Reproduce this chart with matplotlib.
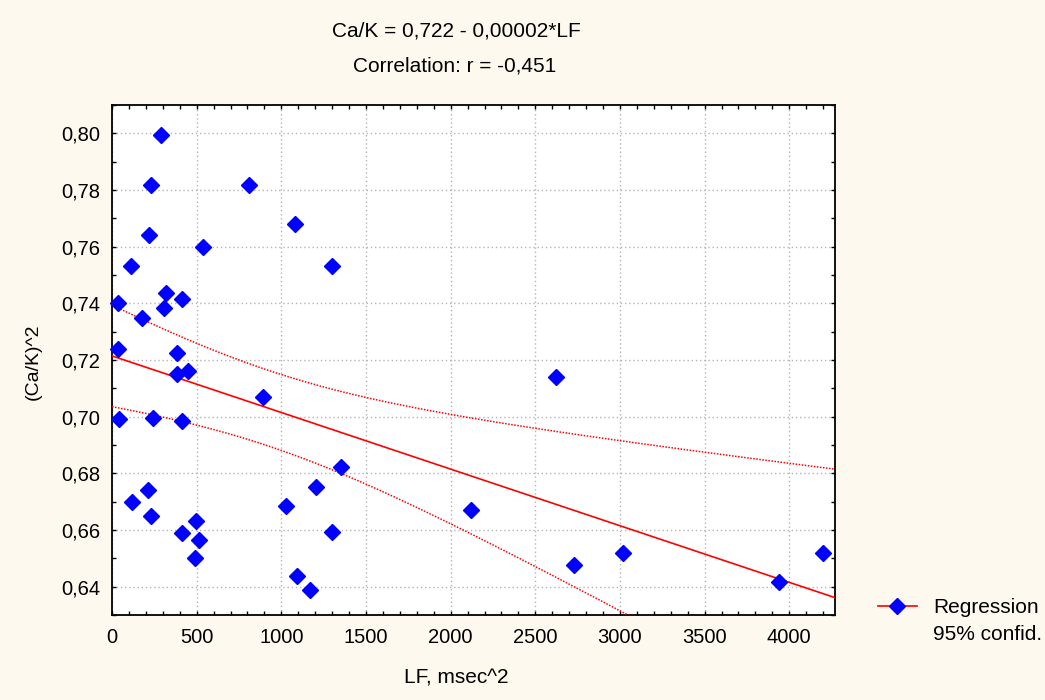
import numpy as np
import matplotlib
matplotlib.use("Agg")
import matplotlib.pyplot as plt
from matplotlib.ticker import MultipleLocator, FuncFormatter
from matplotlib.lines import Line2D

# Data
lf = [287, 232, 809, 1082, 216, 535, 110, 1301, 37, 319, 411, 309, 175, 37, 384,
      382, 451, 893, 43, 242, 411, 1350, 1204, 215, 118, 1025, 230, 496, 411, 1301,
      513, 490, 1092, 1169, 2623, 2119, 2727, 3020, 3941, 4199]
cak = [0.7993, 0.7816, 0.7816, 0.7680, 0.7640, 0.7600, 0.7532, 0.7532, 0.7401, 0.7438,
       0.7417, 0.7383, 0.7349, 0.7238, 0.7226, 0.7149, 0.7162, 0.7070, 0.6991, 0.6997,
       0.6984, 0.6821, 0.6751, 0.6742, 0.6700, 0.6685, 0.6649, 0.6633, 0.6588, 0.6594,
       0.6564, 0.6502, 0.6439, 0.6387, 0.7139, 0.6669, 0.6478, 0.6518, 0.6415, 0.6518]
x_ticks = [0, 500, 1000, 1500, 2000, 2500, 3000, 3500, 4000]
y_ticks = [0.64, 0.66, 0.68, 0.70, 0.72, 0.74, 0.76, 0.78, 0.80]
title1 = "Ca/K = 0,722 - 0,00002*LF"
title2 = "Correlation: r = -0,451"
xlabel = "LF, msec^2"
ylabel = "(Ca/K)^2"
legend_labels = ["Regression", "95% confid."]
t_crit = 2.024  # t(0.975, df=38)

x = np.array(lf, float)
y = np.array(cak, float)
n = len(x)
b, a = np.polyfit(x, y, 1)
resid = y - (a + b * x)
s = np.sqrt(np.sum(resid ** 2) / (n - 2))
xbar = x.mean()
sxx = np.sum((x - xbar) ** 2)

xmin, xmax = 0, 4270
xx = np.linspace(xmin, xmax, 300)
yy = a + b * xx
half = t_crit * s * np.sqrt(1.0 / n + (xx - xbar) ** 2 / sxx)

plt.rcParams['font.family'] = ['Liberation Sans', 'DejaVu Sans']
bg = '#FEF9EE'
fig = plt.figure(figsize=(10.45, 7.0), dpi=100, facecolor=bg)
ax = fig.add_axes([112 / 1045, 1 - 615 / 700, (835 - 112) / 1045, (615 - 105) / 700])
ax.set_facecolor('white')

ax.plot(xx, yy, color='#FF0000', lw=1.2, zorder=3)
ax.plot(xx, yy + half, color='#FF0000', lw=1.1, ls=(0, (1, 1)), zorder=3)
ax.plot(xx, yy - half, color='#FF0000', lw=1.1, ls=(0, (1, 1)), zorder=3)
ax.plot(x, y, ls='none', marker='D', ms=8, color='#0000FF', mec='#0000FF', zorder=4,
        clip_on=False)

ax.set_xlim(xmin, xmax)
ax.set_ylim(0.63, 0.81)
ax.set_xticks(x_ticks)
ax.set_yticks(y_ticks)
ax.xaxis.set_minor_locator(MultipleLocator(100))
ax.yaxis.set_minor_locator(MultipleLocator(0.01))
ax.xaxis.set_major_formatter(FuncFormatter(lambda v, p: f"{v:.0f}"))
ax.yaxis.set_major_formatter(FuncFormatter(lambda v, p: f"{v:.2f}".replace('.', ',')))
ax.tick_params(which='both', direction='in', top=True, right=True, length=3,
               width=1, color='black', labelsize=14.5)
ax.tick_params(axis='x', which='major', pad=9.5)
ax.tick_params(axis='y', which='major', pad=8.6)
ax.grid(True, which='major', color='#B4B4B4', ls=(0, (1, 2)), lw=1.0)
for sp in ax.spines.values():
    sp.set_linewidth(1.3)
    sp.set_color('black')

fig.text(456 / 1045, 1 - 31 / 700, title1, ha='center', va='center', fontsize=15)
fig.text(455 / 1045, 1 - 66 / 700, title2, ha='center', va='center', fontsize=15)
fig.text(456 / 1045, 1 - 678 / 700, xlabel, ha='center', va='center', fontsize=15)
fig.text(33 / 1045, 1 - 362 / 700, ylabel, ha='center', va='center', fontsize=14,
         rotation=90)

h1 = Line2D([], [], color='#FF0000', lw=1.2, marker='D', ms=8, mfc='#0000FF', mec='#0000FF')
h2 = Line2D([], [], color='none')
leg = fig.legend([h1, h2], legend_labels, loc='upper left',
                 bbox_to_anchor=(878 / 1045, 1 - 598 / 700), frameon=False,
                 fontsize=15, handlelength=1.85, handletextpad=0.8, labelspacing=0.36,
                 borderpad=0, borderaxespad=0)

fig.savefig('out.png', dpi=100, facecolor=bg)
